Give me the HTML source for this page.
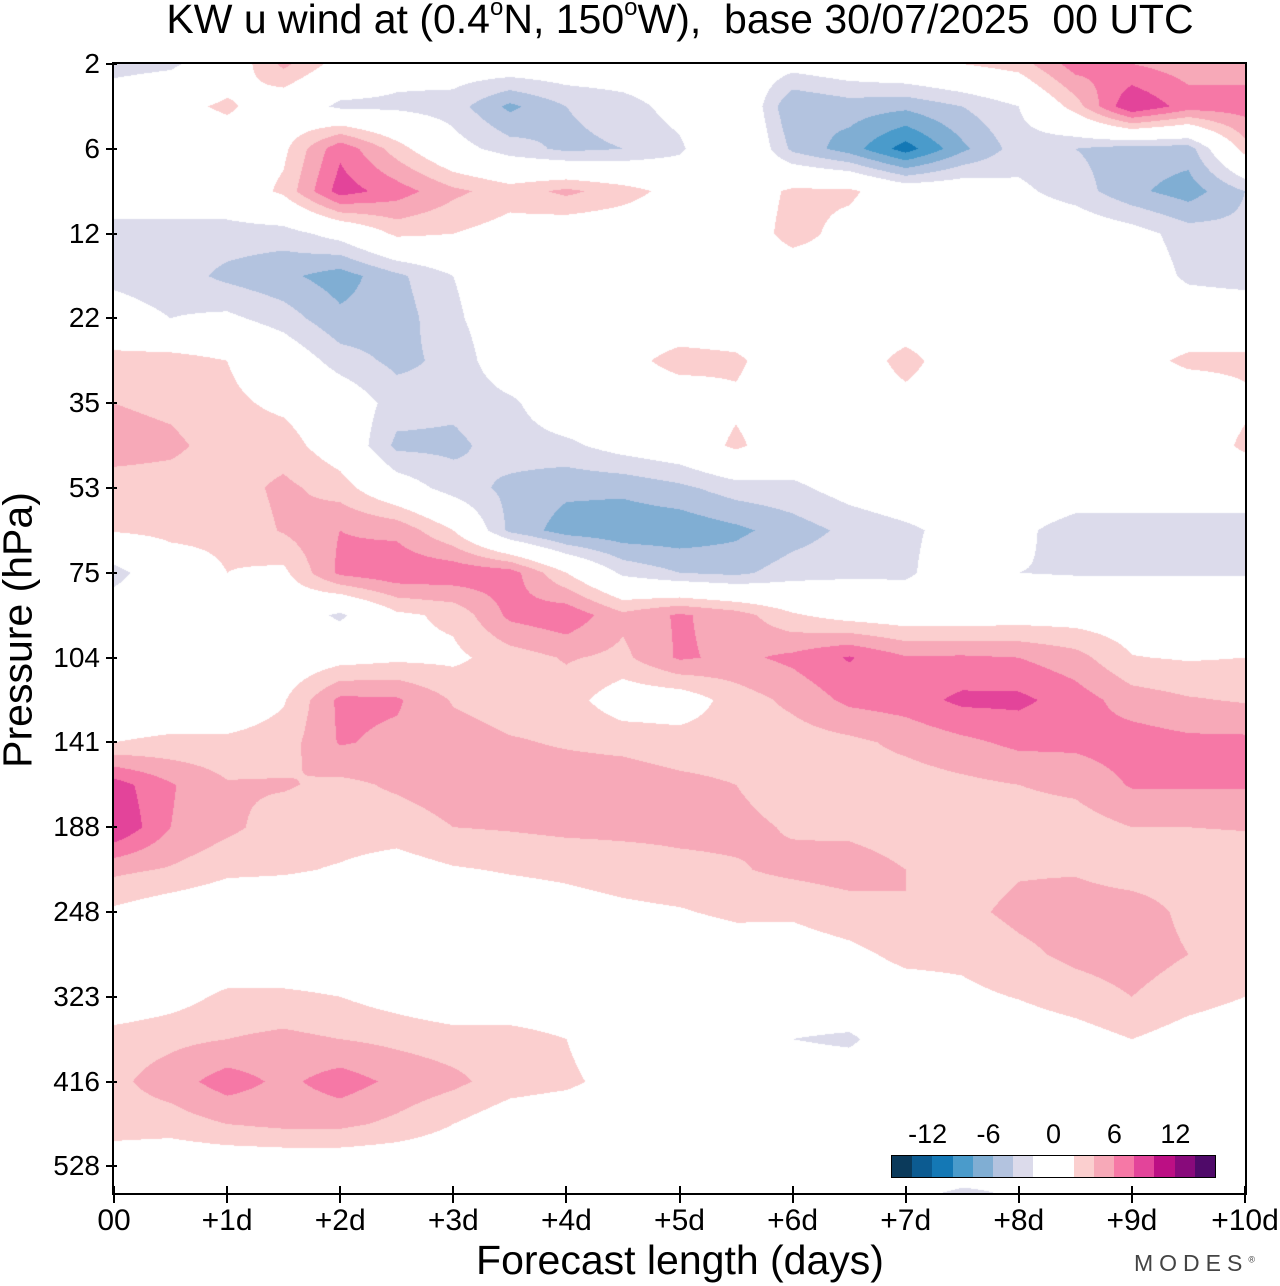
<!DOCTYPE html>
<html><head><meta charset="utf-8">
<style>
body{margin:0;background:#fff;width:1280px;height:1286px;overflow:hidden;position:relative;font-family:"Liberation Sans",Arial,sans-serif;color:#000}
#title{position:absolute;left:0;width:1360px;top:-4px;text-align:center;font-size:41px;white-space:pre}
#title sup{font-size:24px;vertical-align:18px;line-height:0}
canvas{position:absolute;left:114px;top:64px}
#frame{position:absolute;left:113px;top:63px;width:1131px;height:1129px;border:2px solid #000;box-sizing:content-box;margin:-1px}
.yl{position:absolute;right:1180px;font-size:28px;transform:translateY(-50%)}
.xl{position:absolute;top:1204px;font-size:30px;transform:translateX(-50%)}
.tk{position:absolute;background:#000}
#ytitle{position:absolute;left:18px;top:630px;font-size:41px;transform:translate(-50%,-50%) rotate(-90deg);white-space:nowrap}
#xtitle{position:absolute;left:680px;top:1237px;font-size:41px;transform:translateX(-50%);white-space:nowrap}
#modes{position:absolute;left:1134px;top:1250px;font-size:23px;letter-spacing:6px;color:#444}
#cbar{position:absolute;left:891px;top:1155px;height:23px;border:1.5px solid #000;display:flex;box-sizing:border-box}
.cl{position:absolute;top:1119px;font-size:27px;transform:translateX(-50%)}
</style></head><body>
<div id="title">KW u wind at (0.4<sup>o</sup>N, 150<sup>o</sup>W),  base 30/07/2025  00 UTC</div>
<canvas id="plot" width="1131" height="1129"></canvas>
<div id="frame"></div>
<div id="ytitle">Pressure (hPa)</div>
<div id="xtitle">Forecast length (days)</div>
<div id="modes">MODES<sup style="font-size:9px;letter-spacing:0">®</sup></div>
<div id="cbar"></div>
<div id="axes"></div>
<script>
const yTickLabels=["2","6","12","22","35","53","75","104","141","188","248","323","416","528"];
const xTickLabels=["00","+1d","+2d","+3d","+4d","+5d","+6d","+7d","+8d","+9d","+10d"];
const cbarLabels=["-12","-6","0","6","12"];
const cbarLabelValues=[-12,-6,0,6,12];
const levelEdges=[-16,-14,-12,-10,-8,-6,-4,-2,0,2,4,6,8,10,12,14,16];
const levelColors=["#0b3a5b","#0c5b91","#1478b5","#4a9bcb","#80aed3","#b3c3df","#dcdbeb","#ffffff","#ffffff","#fbcfcf","#f7a9b8","#f678a6","#e3449a","#bc0f84","#880a7b","#4f0a69"];
// grid rows: pressure-level index 0..13.5 step 0.5 ; columns: day 0..10 step 0.5
const rowIndex=[0,0.5,1,1.5,2,2.5,3,3.5,4,4.5,5,5.5,6,6.5,7,7.5,8,8.5,9,9.5,10,10.5,11,11.5,12,12.5,13,13.5];
const dayIndex=[0,0.5,1,1.5,2,2.5,3,3.5,4,4.5,5,5.5,6,6.5,7,7.5,8,8.5,9,9.5,10];
const u=[
[-3,-2.5,0,4.5,1,-1,-0.5,0,0,0,0,0,-1,0,1,2,3,7,6,5,5],
[0,1,2.5,0,-2.5,-2.5,-3,-6.5,-4,-3,-1,1.5,-6,-5,-5.5,-4,-2,3,10,7,7],
[0,0,0,1.5,7.5,3,-1,-3,-4.5,-4,-2.5,2,-4.5,-7,-11,-6.5,-3,-4,-5,-5,3],
[0,0,0,2.5,9,7,4.5,3,4.5,3,1,0,2.5,2.5,0,0,-1.5,-3,-5.5,-7,-4],
[-3,-3,-3,-3,-1,2.5,2,1,0,0,0,0,3,1,0,0,0,0,-1,-3,-3.5],
[-2.5,-3,-4.5,-5.5,-7,-4.5,-2,0,0,0,0,0,0,1,0,0,0,0,0,-2.5,-3],
[-1,-2,-1.5,-3,-5.5,-5,-2.5,0,0,0,0,0,0,0,0,0,0,0,0,0,0],
[3,3,2,0,-3,-4.5,-3.5,0,0,1,3,2.5,0,0,3,0,0,0,1,2.5,2.5],
[4,3.5,2.5,1.5,0,-3,-3.5,-2.5,0,0,0,1.5,0,0,1,0,0,0,0,0,1.5],
[5,4.5,3,3,0.5,-4.5,-4.5,-3,-2.5,-1,0,2.5,0,0,0,0,0,0,0,0,2.5],
[3,3,3,4.5,3,-0.5,-3,-4.5,-5.5,-5.5,-4.5,-3,-2.5,-1,0,0,0,-0.5,-0.5,-0.5,-0.5],
[2.2,2.6,2.5,4.2,6,5.5,2,-4.5,-7,-7.5,-7.5,-6.5,-5,-3.5,-2.5,-1,-1.5,-3,-3,-3,-3],
[-3,0.5,2,1.5,6.5,7.5,7.5,7,2,-2.5,-4,-4.5,-3,-2.5,-2.5,0,-2,-2.2,-2.2,-2.2,-2.2],
[0,0,0,0,-2.5,1.5,2.5,6.5,7.5,4.5,6.3,5,2.3,1,0.5,0.5,0.8,0.8,0.5,0.5,0.5],
[0,0,0,0,1,1.5,1.5,3,4.2,3.5,6.3,5.5,6.5,8.2,6.2,6.3,6,4.8,2.1,1.8,2],
[0,0,0,1.8,6.5,6.3,3.8,3,3,0.5,0.5,3,4.5,6.5,7,8.5,8.5,7,5,4.2,3.8],
[2,2.5,2.5,3,6.2,5.5,5,4.2,3.8,3.5,3,3,3,3.5,4.5,5.5,6.5,6.5,7,6.5,6.5],
[9,6.2,4.2,4.2,3.5,4.3,5,5,5,5,4.5,4,3,3,3,3.5,4,4.5,6.2,6.2,6.2],
[10,6,4.5,3,3,3,4,4.2,4.5,4.5,4.5,4.5,3.8,3.5,3,3,3,3,4,4,4.1],
[4.5,3.8,2.5,2.3,1.8,1,1.8,2.2,2.5,3,3.5,3.8,4.5,5,4,3,3.8,3.8,3,3,3],
[1.6,0.5,0,0,0,0,0,0.5,1,1.5,1.8,2.5,2.3,3,4,3.5,4.5,5,5,3.5,2.8],
[0,0,0,0,0,0,0,0,0,0,0,0.5,1,1.5,2.5,2.5,3.5,4.5,5,4,2.5],
[0,1,2.5,2.5,2,1,0,0,0,0,0,0,0,0.5,1,1.5,2.1,3,4,2.8,2],
[3,3.5,4,4.5,4,3.5,3,3,2,0,0,0,-2,-2.5,0,0,0.5,1,2,1,0.5],
[3.5,5,7,5.5,7,5.5,4.5,3,2.5,1,0,0,0,0,0,0,0,0,0,0,0],
[3,3,4,4.5,4.5,3.5,2,0.5,0,0,0,0,0,0,0,0,0,0,0,0,0],
[0.5,0,0,0,0,0,0,0,0,0,0,0,0,0,0,-1,-1.5,-1,0,0,0],
[0,0,0,0,0,0,0,0,0,0,0,0,0,0,-2.5,-3,-2,0,0,0,0]
];
const X0=114,PW=1131,Y0=64,PH=1129;
function xScale(d){return X0+d*PW/10;}
function yScale(r){return Y0+r*84.8;}
function hex(c){return [parseInt(c.slice(1,3),16),parseInt(c.slice(3,5),16),parseInt(c.slice(5,7),16)];}
const rgb=levelColors.map(hex);
function colorFor(v){let i=0;while(i<levelEdges.length-2&&v>=levelEdges[i+1])i++;return rgb[i];}
function sample(d,r){
  const dStep=dayIndex[1]-dayIndex[0],rStep=rowIndex[1]-rowIndex[0];
  let fc=(d-dayIndex[0])/dStep,fr=(r-rowIndex[0])/rStep;
  fc=Math.max(0,Math.min(dayIndex.length-1.0001,fc));fr=Math.max(0,Math.min(rowIndex.length-1.0001,fr));
  const c=Math.floor(fc),rr=Math.floor(fr),tc=fc-c,tr=fr-rr;
  const a=u[rr][c],b=u[rr][c+1],e=u[rr+1][c],f=u[rr+1][c+1];
  return (a*(1-tc)+b*tc)*(1-tr)+(e*(1-tc)+f*tc)*tr;
}
const cv=document.getElementById('plot'),ctx=cv.getContext('2d');
const img=ctx.createImageData(PW,PH);
const rSpan=yScale(1)-yScale(0),dSpan=xScale(1)-xScale(0);
for(let py=0;py<PH;py++){const r=(Y0+py+0.5-yScale(0))/rSpan;
  for(let px=0;px<PW;px++){const d=(X0+px+0.5-xScale(0))/dSpan;
    const col=colorFor(sample(d,r));const k=(py*PW+px)*4;
    img.data[k]=col[0];img.data[k+1]=col[1];img.data[k+2]=col[2];img.data[k+3]=255;}}
ctx.putImageData(img,0,0);
const axes=document.getElementById('axes');
yTickLabels.forEach((t,i)=>{const y=yScale(i);
  const tk=document.createElement('div');tk.className='tk';
  
  
  tk.style.cssText=`left:106px;top:${y-1}px;width:11px;height:2px`;axes.appendChild(tk);
  const l=document.createElement('div');l.className='yl';l.textContent=t;l.style.top=y+'px';
  
  
  axes.appendChild(l);});
xTickLabels.forEach((t,i)=>{const x=xScale(i);
  const tk=document.createElement('div');tk.className='tk';
  
  
  tk.style.cssText=`left:${x-1}px;top:1186px;width:2px;height:17px`;axes.appendChild(tk);
  const l=document.createElement('div');l.className='xl';l.textContent=t;l.style.left=x+'px';
  
  
  axes.appendChild(l);});
const cb=document.getElementById('cbar');cb.style.width='325px';
levelColors.forEach(c=>{const s=document.createElement('div');
  
  
  s.style.cssText=`flex:1;background:${c}`;cb.appendChild(s);});
cbarLabels.forEach((t,i)=>{const v=cbarLabelValues[i];
  const x=891+(v-levelEdges[0])/(levelEdges[levelEdges.length-1]-levelEdges[0])*325;
  const l=document.createElement('div');l.className='cl';l.textContent=t;l.style.left=(x+(v<0?-4:0))+'px';
  
  
  axes.appendChild(l);});
</script>
</body></html>
